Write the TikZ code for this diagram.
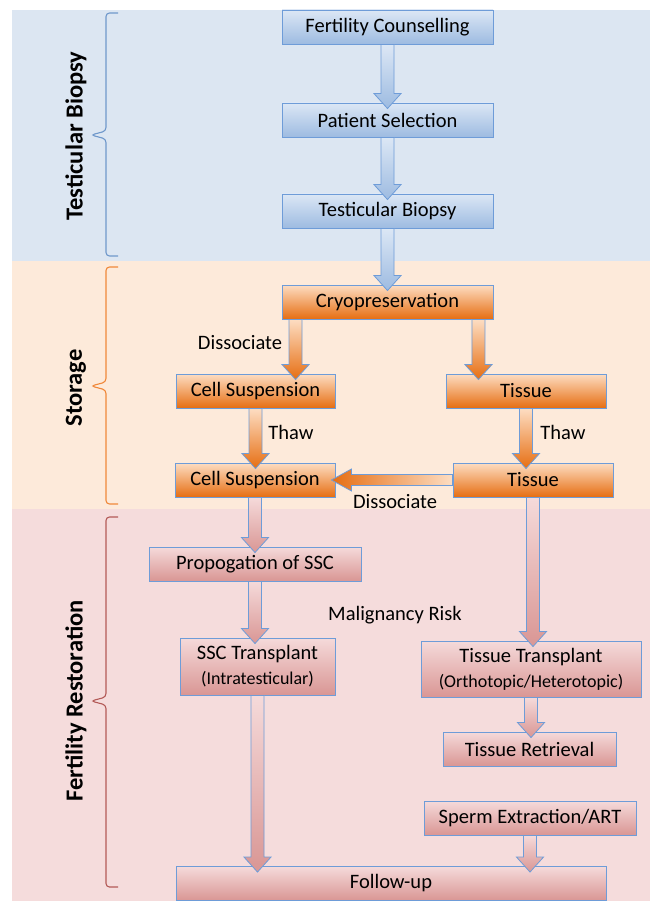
\documentclass[tikz,border=0pt]{standalone}
\usepackage{fontspec}
\setmainfont{Carlito}
\usetikzlibrary{calc}

\definecolor{bandblue}{HTML}{DCE6F2}
\definecolor{bandorange}{HTML}{FDEADA}
\definecolor{bandpink}{HTML}{F5DCDC}
\definecolor{edgeblue}{HTML}{6E9CD8}
\definecolor{bluetop}{HTML}{DCE7F5}
\definecolor{bluebot}{HTML}{9DBBE1}
\definecolor{orangetop}{HTML}{FDDDC2}
\definecolor{orangebot}{HTML}{E66E12}
\definecolor{pinktop}{HTML}{F5DADA}
\definecolor{pinkbot}{HTML}{D99694}
\definecolor{braceblue}{HTML}{6F98CB}
\definecolor{braceorange}{HTML}{F0883A}
\definecolor{bracered}{HTML}{B35A57}

\tikzset{
  box/.style={draw=edgeblue, line width=0.9pt, minimum height=34, inner sep=0pt,
    align=center, font=\fontsize{20.5}{25}\selectfont},
  bluebox/.style={box, top color=bluetop, bottom color=bluebot},
  orangebox/.style={box, top color=orangetop, bottom color=orangebot},
  pinkbox/.style={box, top color=pinktop, bottom color=pinkbot},
  bluearrow/.style={draw=edgeblue, line width=0.8pt, top color=bluetop, bottom color=bluebot},
  orangearrow/.style={draw=edgeblue, line width=0.8pt, top color=orangetop, bottom color=orangebot},
  orangearrowh/.style={draw=edgeblue, line width=0.8pt, left color=orangebot, right color=orangetop},
  pinkarrow/.style={draw=edgeblue, line width=0.8pt, top color=pinktop, bottom color=pinkbot},
  note/.style={font=\fontsize{20.5}{25}\selectfont},
  phase/.style={rotate=90, font=\fontsize{24.5}{28}\selectfont\bfseries},
  bracket/.style={line width=1.1pt, rounded corners=3.5pt},
}

\newcommand{\subnote}[1]{{\fontsize{18}{22}\selectfont #1}}
% block arrow down: style, from, tip
\newcommand{\flowdown}[3]{%
  \path[#1] let \p1=#2, \p2=#3 in
    (\x1-6.5pt,\y1) -- (\x1+6.5pt,\y1) -- (\x1+6.5pt,\y2+15pt) -- (\x1+13.5pt,\y2+15pt)
    -- (\x1,\y2) -- (\x1-13.5pt,\y2+15pt) -- (\x1-6.5pt,\y2+15pt) -- cycle;}
% block arrow left: style, from, tip
\newcommand{\flowleft}[3]{%
  \path[#1] let \p1=#2, \p2=#3 in
    (\x1,\y1-5.5pt) -- (\x1,\y1+5.5pt) -- (\x2+20pt,\y1+5.5pt) -- (\x2+20pt,\y1+11pt)
    -- (\x2,\y1) -- (\x2+20pt,\y1-11pt) -- (\x2+20pt,\y1-5.5pt) -- cycle;}

\begin{document}
\begin{tikzpicture}[x=1pt, y=-1pt]
    \useasboundingbox (0,0) rectangle (650,901);

    % Phase bands
    \fill[bandblue] (12,10) rectangle (650,261);
    \fill[bandorange] (12,261) rectangle (650,509);
    \fill[bandpink] (12,509) rectangle (650,901);

    % Braces and phase names
    \draw[bracket, braceblue] (118,13) -- (106,13) -- (106,131) -- (91,135)
        -- (106,139) -- (106,256) -- (118,256);
    \draw[bracket, braceorange] (118,267) -- (106,267) -- (106,382) -- (91,386)
        -- (106,390) -- (106,504) -- (118,504);
    \draw[bracket, bracered] (118,517) -- (106,517) -- (106,697) -- (91,701)
        -- (106,705) -- (106,887) -- (118,887);
    \node[phase] (biopsy) at (76,136) {Testicular Biopsy};
    \node[phase] (storage) at (76,388) {Storage};
    \node[phase] (restore) at (76,701) {Fertility Restoration};

    % Steps
    \node[bluebox, minimum width=211] (fc) at (387.5,27) {Fertility Counselling};
    \node[bluebox, minimum width=211] (ps) at (387.5,120) {Patient Selection};
    \node[bluebox, minimum width=211] (tb) at (387.5,211) {Testicular Biopsy};
    \node[orangebox, minimum width=211] (cryo) at (387.5,302) {Cryopreservation};
    \node[orangebox, minimum width=159] (cs1) at (255.5,391) {Cell Suspension};
    \node[orangebox, minimum width=160] (t1) at (526,391) {Tissue};
    \node[orangebox, minimum width=160] (cs2) at (255,480) {Cell Suspension};
    \node[orangebox, minimum width=160] (t2) at (533,480) {Tissue};
    \node[pinkbox, minimum width=212] (prop) at (255,564) {Propogation of SSC};
    \node[pinkbox, minimum width=155, minimum height=57] (ssc) at (257.5,666.5)
        {SSC Transplant\\\subnote{(Intratesticular)}};
    \node[pinkbox, minimum width=220, minimum height=56] (tt) at (531,669)
        {Tissue Transplant\\\subnote{(Orthotopic/Heterotopic)}};
    \node[pinkbox, minimum width=173] (tr) at (529.5,749) {Tissue Retrieval};
    \node[pinkbox, minimum width=212] (se) at (530,818) {Sperm Extraction/ART};
    \node[pinkbox, minimum width=430] (fu) at (391,883.5) {Follow-up};

    % Side notes
    \node[note] (dis1) at (240,343) {Dissociate};
    \node[note] (thaw1) at (291,432) {Thaw};
    \node[note] (thaw2) at (563,432) {Thaw};
    \node[note] (dis2) at (395,502) {Dissociate};
    \node[note] (risk) at (395,615) {Malignancy Risk};

    % Arrows
    \flowdown{bluearrow}{(fc.south)}{([yshift=-6pt]ps.north)}
    \flowdown{bluearrow}{(ps.south)}{([yshift=-6pt]tb.north)}
    \flowdown{bluearrow}{(tb.south)}{([yshift=-6pt]cryo.north)}
    \flowdown{orangearrow}{([xshift=14pt]cryo.south west)}{([yshift=-6pt]cs1.north)}
    \flowdown{orangearrow}{([xshift=-15pt]cryo.south east)}{([yshift=-6pt]t1.north)}
    \flowdown{orangearrow}{(cs1.south)}{([yshift=-6pt]cs2.north)}
    \flowdown{orangearrow}{(t1.south)}{([yshift=-6pt]t2.north)}
    \flowleft{orangearrowh}{(t2.west)}{([xshift=-4pt]cs2.east)}
    \flowdown{pinkarrow}{(cs2.south)}{([yshift=-6pt]prop.north)}
    \flowdown{pinkarrow}{(prop.south)}{([yshift=-6pt]ssc.north)}
    \flowdown{pinkarrow}{(ssc.south)}{([yshift=-6pt]fu.north)}
    \flowdown{pinkarrow}{(t2.south)}{([yshift=-6pt]tt.north)}
    \flowdown{pinkarrow}{(tt.south)}{([yshift=-6pt]tr.north)}
    \flowdown{pinkarrow}{(se.south)}{([yshift=-6pt]fu.north)}
\end{tikzpicture}
\end{document}
